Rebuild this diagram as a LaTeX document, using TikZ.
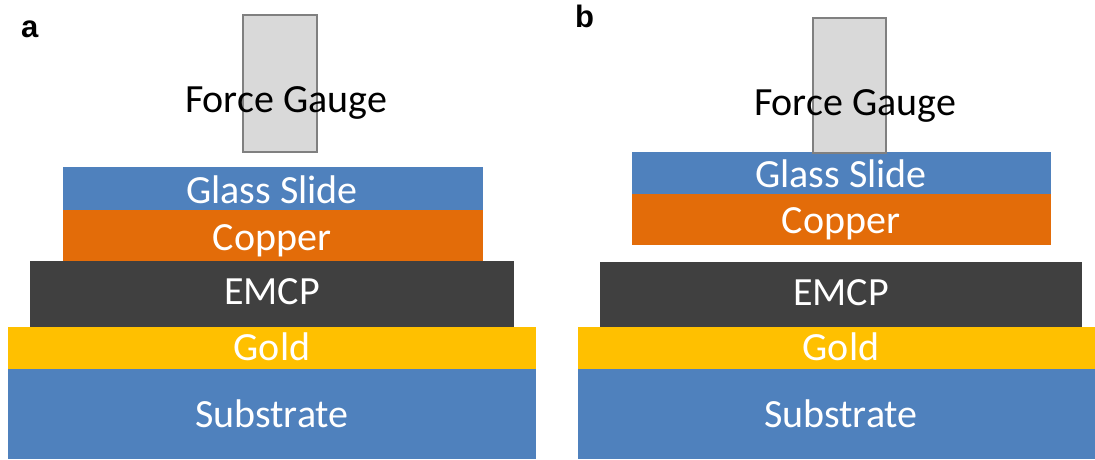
\documentclass[tikz,border=0pt]{standalone}
\usepackage{fontspec}
\setmainfont{Carlito}
\newfontfamily\labelfont{Liberation Sans}
\definecolor{cblue}{HTML}{4F81BD}
\definecolor{corange}{HTML}{E36C09}
\definecolor{cdark}{HTML}{404040}
\definecolor{cgold}{HTML}{FFC000}
\definecolor{cgauge}{HTML}{D9D9D9}
\definecolor{cgaugeline}{HTML}{808080}
\tikzset{
  layertext/.style={anchor=base, text=white, font=\fontsize{40}{40}\selectfont, inner sep=0pt},
  gaugetext/.style={anchor=base, text=black, font=\fontsize{40}{40}\selectfont, inner sep=0pt},
  gaugebox/.style={fill=cgauge, draw=cgaugeline, line width=2pt},
  panellabel/.style={anchor=base west, font=\labelfont\bfseries\fontsize{31}{31}\selectfont, inner sep=0pt}
}
\begin{document}
\begin{tikzpicture}[x=1pt,y=-1pt]
\useasboundingbox (0,0) rectangle (1095,459);
% ---------- panel a ----------
\fill[cblue]   (63,167) rectangle (483,210);
\fill[corange] (63,210) rectangle (483,261);
\fill[cdark]   (30,261) rectangle (514,327);
\fill[cgold]   (8,327) rectangle (536,369);
\fill[cblue]   (8,369) rectangle (536,459);
\draw[gaugebox] (243,15) rectangle (317,152);
\node[gaugetext] (fga) at (286,112) {Force Gauge};
\node[layertext] (glassa) at (272,203) {Glass Slide};
\node[layertext] (coppera) at (272,250) {Copper};
\node[layertext] (emcpa) at (272,304) {EMCP};
\node[layertext] (golda) at (272,360) {Gold};
\node[layertext] (suba) at (272,427) {Substrate};
\node[panellabel] (la) at (21,37) {a};
% ---------- panel b ----------
\fill[cblue]   (632,152) rectangle (1051,194);
\fill[corange] (632,194) rectangle (1051,245);
\fill[cdark]   (600,262) rectangle (1082,327);
\fill[cgold]   (578,327) rectangle (1095,369);
\fill[cblue]   (578,369) rectangle (1095,459);
\draw[gaugebox] (813,18) rectangle (886,153);
\node[gaugetext] (fgb) at (855,115) {Force Gauge};
\node[layertext] (glassb) at (841,187) {Glass Slide};
\node[layertext] (copperb) at (841,233) {Copper};
\node[layertext] (emcpb) at (841,305) {EMCP};
\node[layertext] (goldb) at (841,360) {Gold};
\node[layertext] (subb) at (841,427) {Substrate};
\node[panellabel] (lb) at (575,27) {b};
\end{tikzpicture}
\end{document}
